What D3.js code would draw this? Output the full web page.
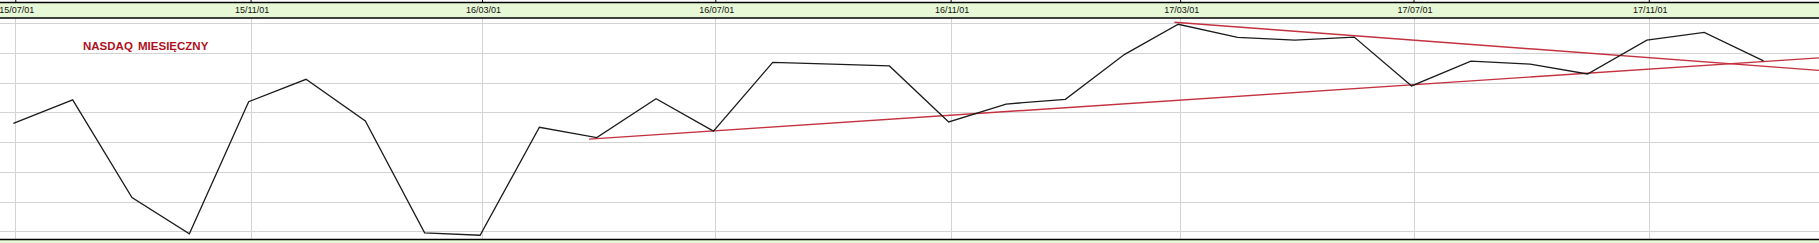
<!DOCTYPE html>
<html>
<head>
<meta charset="utf-8">
<script src="https://cdnjs.cloudflare.com/ajax/libs/d3/7.8.5/d3.min.js"></script>
<style>
  body { margin: 0; background: #fff; }
  svg { display: block; font-family: "Liberation Sans", Arial, sans-serif; }
</style>
</head>
<body>
<svg width="1819" height="243"></svg>
<script>
// monthly closes (month-end), unitless level
const months = [
  "2015-06-30", "2015-07-31", "2015-08-31", "2015-09-30", "2015-10-31", "2015-11-30", "2015-12-31",
  "2016-01-31", "2016-02-29", "2016-03-31", "2016-04-30", "2016-05-31", "2016-06-30", "2016-07-31",
  "2016-08-31", "2016-09-30", "2016-10-31", "2016-11-30", "2016-12-31", "2017-01-31", "2017-02-28",
  "2017-03-31", "2017-04-30", "2017-05-31", "2017-06-30", "2017-07-31", "2017-08-31", "2017-09-30",
  "2017-10-31", "2017-11-30", "2017-12-31"
];
const values = [
  4.63, 5.42, 2.14, 0.92, 5.36, 6.11, 4.71,
  0.95, 0.87, 4.50, 4.15, 5.46, 4.37, 6.68,
  6.62, 6.56, 4.68, 5.28, 5.44, 6.95, 7.96,
  7.52, 7.43, 7.53, 5.89, 6.72, 6.62, 6.29,
  7.43, 7.69, 6.73
];
// trend lines: [start, end] dates and levels
const supportDates = ["2016-04-26", "2018-01-29"];
const supportValues = [4.10, 6.83];
const resistDates = ["2017-02-26", "2018-01-29"];
const resistValues = [8.03, 6.41];

const tickDates = ["2015-07-01", "2015-11-01", "2016-03-01", "2016-07-01", "2016-11-01", "2017-03-01", "2017-07-01", "2017-11-01"];
const levels = [1, 2, 3, 4, 5, 6, 7, 8];
const title = "NASDAQ MIESIĘCZNY";

const parse = d3.timeParse("%Y-%m-%d");
const fmt = d3.timeFormat("%y/%m/%d");

const svg = d3.select("svg"),
    width = +svg.attr("width"),
    height = +svg.attr("height"),
    headTop = 2.5, headBottom = 18, footTop = 239.5;

const x = d3.scaleTime()
    .domain([parse("2015-06-23"), parse("2018-01-29")])
    .range([0, width]);

const y = d3.scaleLinear()
    .domain([1, 8])
    .range([231.4, 23.1]);

const data = months.map((m, i) => ({ date: parse(m), value: values[i] }));

// header and footer bands
svg.append("rect").attr("x", 0).attr("y", headTop).attr("width", width).attr("height", headBottom - headTop)
    .attr("fill", "#e6f8d5");
svg.append("rect").attr("x", 0).attr("y", footTop).attr("width", width).attr("height", height - footTop)
    .attr("fill", "#e6f8d5");

// grid
svg.append("g")
    .selectAll("line")
    .data(levels)
    .enter()
    .append("line")
    .attr("x1", 0)
    .attr("x2", width)
    .attr("y1", d => Math.round(y(d)) + 0.5)
    .attr("y2", d => Math.round(y(d)) + 0.5)
    .attr("stroke", "#d3d3d3");

svg.append("g")
    .selectAll("line")
    .data(tickDates)
    .enter()
    .append("line")
    .attr("x1", d => Math.round(x(parse(d))) + 0.5)
    .attr("x2", d => Math.round(x(parse(d))) + 0.5)
    .attr("y1", headBottom)
    .attr("y2", footTop)
    .attr("stroke", "#d3d3d3");

// borders
[headTop, headBottom, footTop].forEach(v => {
    svg.append("line")
        .attr("x1", 0).attr("x2", width)
        .attr("y1", v).attr("y2", v)
        .attr("stroke", "#000")
        .attr("stroke-width", 1.6);
});

// date axis in the header
const axis = svg.append("g")
    .call(d3.axisBottom(x)
        .tickValues(tickDates.map(parse))
        .tickFormat(fmt)
        .tickSize(3)
        .tickPadding(4));
axis.select(".domain").remove();
axis.selectAll("text")
    .attr("font-size", 9)
    .attr("font-family", "'Liberation Sans', Arial, sans-serif")
    .attr("dx", 1)
    .attr("fill", "#111");

// trend lines
const trend = (dates, vals) => {
    svg.append("line")
        .attr("x1", x(parse(dates[0])))
        .attr("y1", y(vals[0]))
        .attr("x2", x(parse(dates[1])))
        .attr("y2", y(vals[1]))
        .attr("stroke", "#c4313f")
        .attr("stroke-width", 1.4);
};
trend(supportDates, supportValues);
trend(resistDates, resistValues);

// price line
svg.append("path")
    .datum(data)
    .attr("fill", "none")
    .attr("stroke", "#1c1c1c")
    .attr("stroke-width", 1.3)
    .attr("d", d3.line().x(d => x(d.date)).y(d => y(d.value)));

svg.append("text")
    .attr("x", 83)
    .attr("y", 50)
    .attr("font-size", 11.5)
    .attr("font-weight", "bold")
    .attr("fill", "#b0101c")
    .attr("word-spacing", 2)
    .text(title);
</script>
</body>
</html>
